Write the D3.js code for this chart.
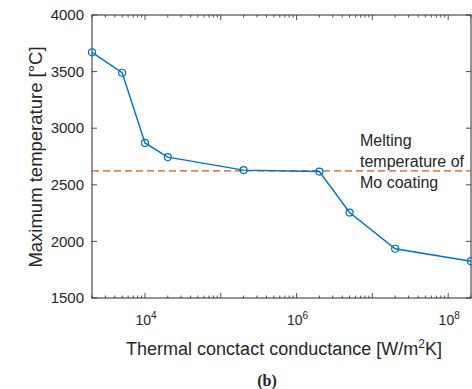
<!DOCTYPE html>
<html>
<head>
<meta charset="utf-8">
<script src="https://cdn.jsdelivr.net/npm/d3@7"></script>
<style>
  body { margin: 0; background: #fff; }
  text { font-family: "Liberation Sans", Arial, sans-serif; fill: #262626; }
</style>
</head>
<body>
<div id="chart"></div>
<script>
// Data
const conductance = [2e3, 5e3, 1e4, 2e4, 2e5, 2e6, 5e6, 2e7, 2e8];
const maxTemp     = [3670, 3490, 2870, 2745, 2630, 2617, 2255, 1935, 1825];
const meltingTemp = 2623;
const xExponents  = [4, 6, 8];
const yTicks      = [1500, 2000, 2500, 3000, 3500, 4000];
const noteLines   = ["Melting", "temperature of", "Mo coating"];

const W = 472, H = 389;
const margin = { top: 15, right: 1, bottom: 91, left: 92 };
const width  = W - margin.left - margin.right;
const height = H - margin.top - margin.bottom;

const svg = d3.select("#chart").append("svg")
  .attr("width", W).attr("height", H);
const g = svg.append("g")
  .attr("transform", `translate(${margin.left},${margin.top})`);

const x = d3.scaleLog().domain([2e3, 2e8]).range([0, width]);
const y = d3.scaleLinear().domain([1500, 4000]).range([height, 0]);

const axisColor = "#262626";

// Minor log ticks (top and bottom, inside)
const minor = [];
for (let e = 3; e <= 8; e++) {
  for (let m = 1; m <= 9; m++) {
    const v = m * Math.pow(10, e);
    if (v >= 2e3 && v <= 2e8) minor.push(v);
  }
}
minor.forEach(v => {
  const major = Number.isInteger(Math.log10(v));
  const len = major ? 5 : 2.5;
  g.append("line").attr("x1", x(v)).attr("x2", x(v))
    .attr("y1", height).attr("y2", height - len)
    .attr("stroke", axisColor).attr("stroke-width", 0.8);
  g.append("line").attr("x1", x(v)).attr("x2", x(v))
    .attr("y1", 0).attr("y2", len)
    .attr("stroke", axisColor).attr("stroke-width", 0.8);
});

// Y ticks (left and right, inside)
yTicks.forEach(t => {
  g.append("line").attr("x1", 0).attr("x2", 5)
    .attr("y1", y(t)).attr("y2", y(t))
    .attr("stroke", axisColor).attr("stroke-width", 0.8);
  g.append("line").attr("x1", width).attr("x2", width - 5)
    .attr("y1", y(t)).attr("y2", y(t))
    .attr("stroke", axisColor).attr("stroke-width", 0.8);
  g.append("text")
    .attr("x", -8).attr("y", y(t)).attr("dy", "0.35em")
    .attr("text-anchor", "end").attr("font-size", 15)
    .text(t);
});

// X tick labels 10^n
xExponents.forEach(e => {
  const t = g.append("text")
    .attr("x", x(Math.pow(10, e)) + 1).attr("y", height + 27)
    .attr("text-anchor", "middle").attr("font-size", 14);
  t.append("tspan").text("10");
  t.append("tspan").attr("dy", -6).attr("font-size", 10).text(e);
});

// Box
g.append("rect")
  .attr("x", 0).attr("y", 0).attr("width", width).attr("height", height)
  .attr("fill", "none").attr("stroke", axisColor).attr("stroke-width", 1);

// Melting temperature line
g.append("line")
  .attr("x1", 0).attr("x2", width)
  .attr("y1", y(meltingTemp)).attr("y2", y(meltingTemp))
  .attr("stroke", "#D95319").attr("stroke-width", 1.2)
  .attr("stroke-dasharray", "7,4");

// Data line
const pts = conductance.map((c, i) => [c, maxTemp[i]]);
g.append("path")
  .datum(pts)
  .attr("fill", "none")
  .attr("stroke", "#0072BD").attr("stroke-width", 1.4)
  .attr("d", d3.line().x(d => x(d[0])).y(d => y(d[1])));

g.selectAll("circle.pt")
  .data(pts)
  .enter().append("circle")
  .attr("class", "pt")
  .attr("cx", d => x(d[0])).attr("cy", d => y(d[1]))
  .attr("r", 3.5)
  .attr("fill", "none").attr("stroke", "#0072BD").attr("stroke-width", 1.2);

// Annotation
noteLines.forEach((s, i) => {
  g.append("text")
    .attr("x", 360 - margin.left).attr("y", 146 - margin.top + i * 21)
    .attr("font-size", 16)
    .text(s);
});

// Axis labels
const xl = svg.append("text")
  .attr("x", 284).attr("y", 355)
  .attr("text-anchor", "middle").attr("font-size", 18);
xl.append("tspan").text("Thermal conctact conductance [W/m");
xl.append("tspan").attr("dy", -7).attr("font-size", 12).text("2");
xl.append("tspan").attr("dy", 7).text("K]");

svg.append("text")
  .attr("transform", "translate(42,157) rotate(-90)")
  .attr("text-anchor", "middle").attr("font-size", 18.5)
  .text("Maximum temperature [°C]");

svg.append("text")
  .attr("x", 267).attr("y", 386)
  .attr("text-anchor", "middle")
  .attr("font-size", 16).attr("font-weight", "bold")
  .style("font-family", "'Liberation Serif', 'Times New Roman', serif")
  .text("(b)");
</script>
</body>
</html>
